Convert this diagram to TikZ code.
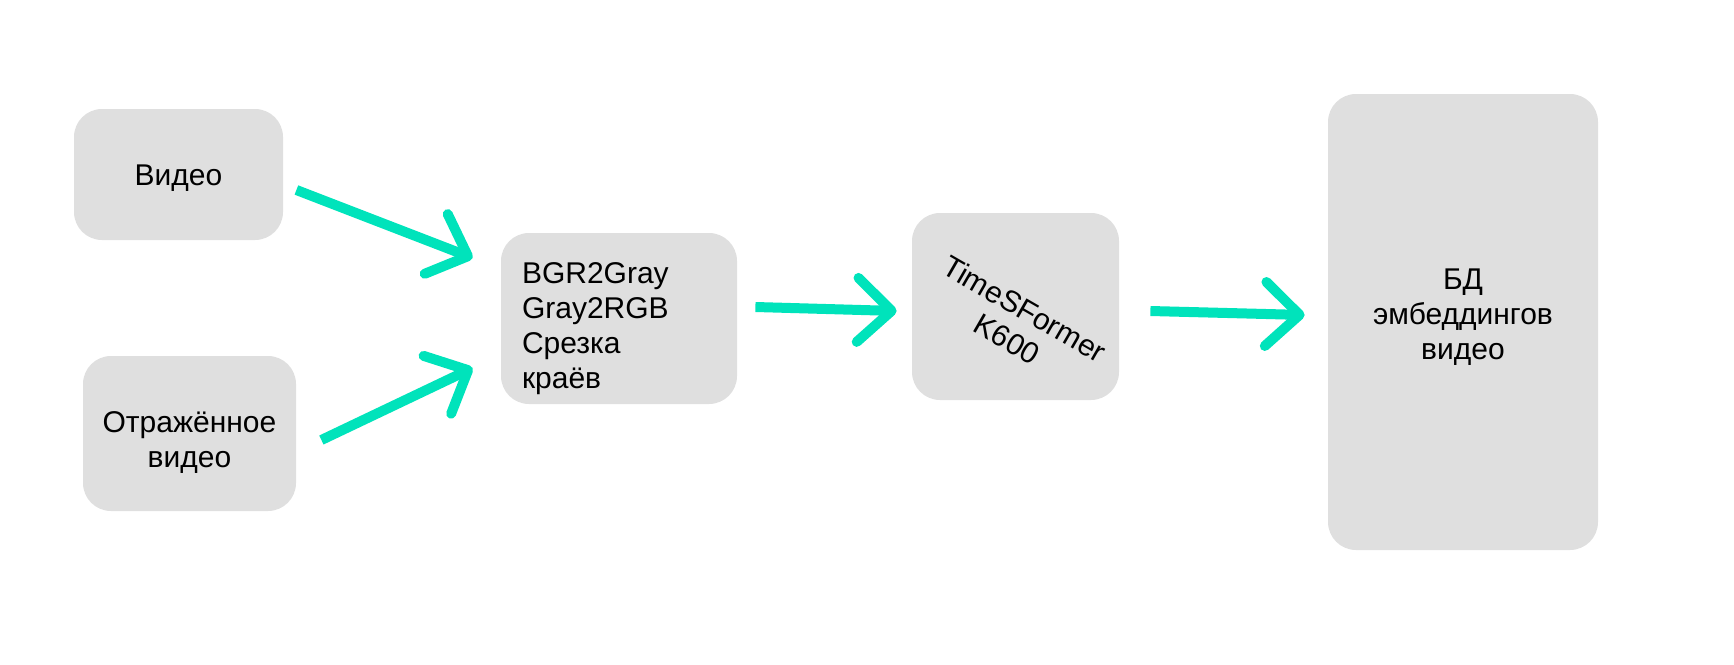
\documentclass[tikz,border=0pt]{standalone}
\usepackage{fontspec}
\setmainfont{Liberation Sans}
\usetikzlibrary{arrows.meta}

\definecolor{flowgreen}{RGB}{0,227,187}
\definecolor{boxgray}{RGB}{223,223,223}

\begin{document}
\begin{tikzpicture}[
    x=0.5pt, y=-0.5pt,
    font=\fontsize{15}{17.5}\selectfont,
    box/.style={rectangle, rounded corners=14pt, fill=boxgray, draw=none,
      inner sep=0pt, align=center},
    flow/.style={flowgreen, line width=5pt,
      -{Straight Barb[length=17pt, width=32pt, round]}}
  ]

  % page frame
  \useasboundingbox (0,0) rectangle (1734,664);

  % layout the boxes
  \node (video)  [box, minimum width=104.5pt, minimum height=65.5pt,
                  label={[yshift=-2pt]center:Видео}]
                 at (178.5,174.5)  {};
  \node (mirror) [box, minimum width=106.5pt, minimum height=77.5pt,
                  label={[align=center, yshift=-4.5pt]center:Отражённое\\видео}]
                 at (189.5,433.5)  {};
  \node (prep)   [box, minimum width=118pt, minimum height=85.5pt,
                  label={[align=left, text width=97pt, yshift=-5pt]center:BGR2Gray\\Gray2RGB\\Срезка\\краёв}]
                 at (619,318.5)    {};
  \node (model)  [box, minimum width=103.5pt, minimum height=93.5pt,
                  label={[rotate=-30, align=center, xshift=4.5pt, yshift=-7.5pt]center:TimeSFormer\\K600}]
                 at (1015.5,306.5) {};
  \node (db)     [box, minimum width=135pt, minimum height=228pt,
                  label={[align=center, yshift=2.5pt]center:БД\\эмбеддингов\\видео}]
                 at (1463,322)     {};

  % connectors
  \draw[flow] ([shift={(13,15.5)}]video.east)   -- ([shift={(-28,-60.5)}]prep.west);
  \draw[flow] ([shift={(25,6.5)}]mirror.east)   -- ([shift={(-28,49.5)}]prep.west);
  \draw[flow] ([shift={(18,-11.5)}]prep.east)   -- ([shift={(-15,4.5)}]model.west);
  \draw[flow] ([shift={(31,4.5)}]model.east)    -- ([shift={(-23,-7)}]db.west);

\end{tikzpicture}
\end{document}
